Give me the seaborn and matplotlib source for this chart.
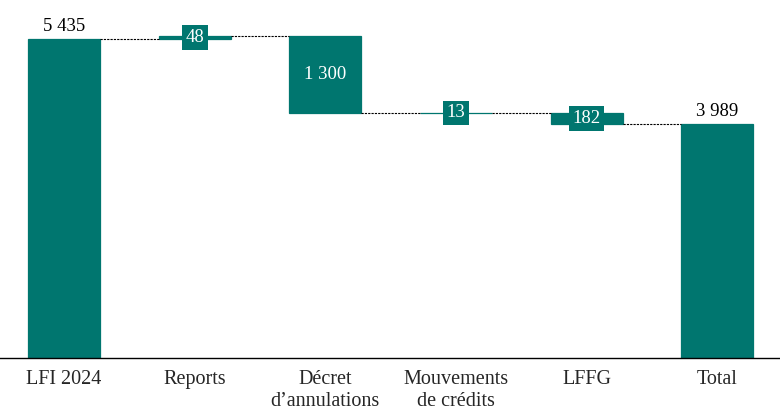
import numpy as np
import pandas as pd
import seaborn as sns
import matplotlib
matplotlib.use("Agg")
import matplotlib.pyplot as plt

categories = ["LFI 2024", "Reports", "Décret\nd’annulations", "Mouvements\nde crédits", "LFFG", "Total"]
changes = [5435, 48, -1300, -13, -182, 3989]
labels = ["5 435", "48", "1 300", "13", "182", "3 989"]
is_total = [True, False, False, False, False, True]

TEAL = "#00766F"
WIDTH = 0.55

# running totals -> bar bottoms / heights
bottoms, heights, levels = [], [], []
running = 0
for v, tot in zip(changes, is_total):
    if tot:
        bottoms.append(0)
        heights.append(v)
        running = v
    else:
        start = running
        running = running + v
        bottoms.append(min(start, running))
        heights.append(abs(v))
    levels.append(running)

df = pd.DataFrame({"cat": categories, "height": heights, "bottom": bottoms})

sns.set_style("white")
plt.rcParams["font.family"] = ["Liberation Serif", "DejaVu Serif"]

fig = plt.figure(figsize=(7.8, 4.17), dpi=100)
ax = fig.add_axes([0, 0.1415, 1, 0.8585])

# thin edge keeps the tiny bars (13, 48) visible
sns.barplot(data=df, x="cat", y="height", bottom=df["bottom"], color=TEAL,
            saturation=1, width=WIDTH, edgecolor=TEAL, linewidth=0.9, ax=ax)

# dashed connectors between bars
for i in range(len(categories) - 1):
    ax.hlines(levels[i], i + WIDTH / 2, i + 1 - WIDTH / 2, colors="black",
              linestyles=(0, (2, 1)), linewidth=0.8)

for i, (lab, tot) in enumerate(zip(labels, is_total)):
    if tot:
        ax.text(i, heights[i] + 70, lab, ha="center", va="bottom",
                fontsize=13.5, color="black")
    else:
        mid = bottoms[i] + heights[i] / 2
        ax.text(i, mid, lab, ha="center", va="center", fontsize=13.5,
                color="white",
                bbox=dict(boxstyle="square,pad=0.2", fc=TEAL, ec="none"))

ax.set_xlim(-0.49, 5.48)
ax.set_ylim(0, 6100)
ax.set_xlabel("")
ax.set_ylabel("")
ax.set_yticks([])
ax.tick_params(axis="x", length=0, pad=9, labelsize=14.5)
for s in ["top", "right", "left"]:
    ax.spines[s].set_visible(False)
ax.spines["bottom"].set_color("black")
ax.spines["bottom"].set_linewidth(1)

fig.savefig("out.png", dpi=100)
